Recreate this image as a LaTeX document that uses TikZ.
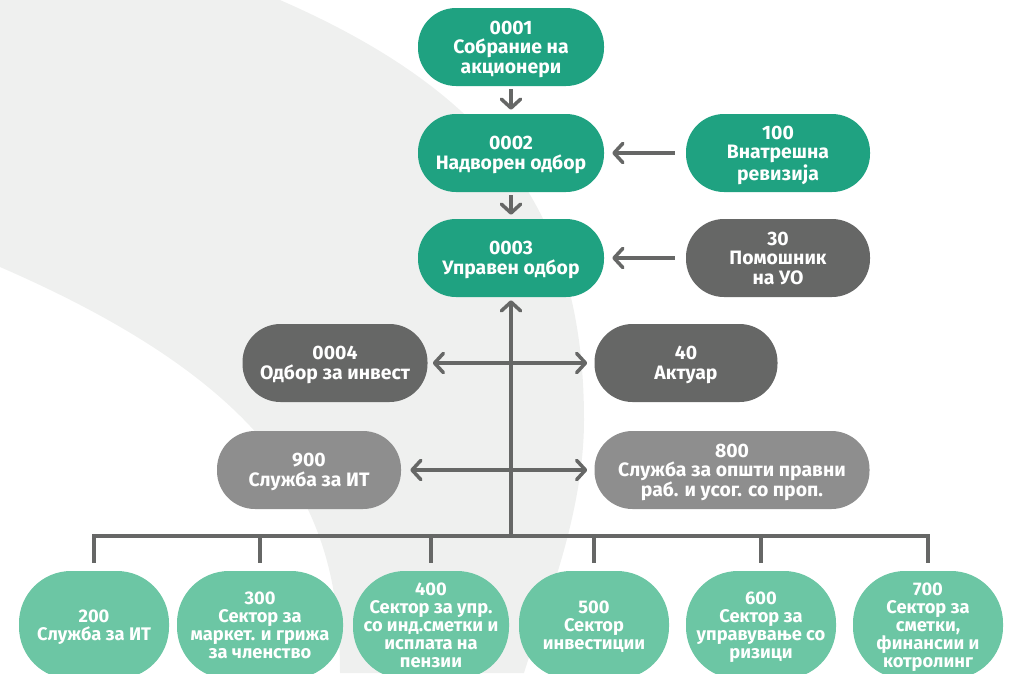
\documentclass[tikz,border=0pt]{standalone}
\usepackage{fontspec}
\setmainfont{Fira Sans}
\usetikzlibrary{arrows.meta}

\definecolor{dkgreen}{RGB}{31,162,129}
\definecolor{ltgreen}{RGB}{108,198,164}
\definecolor{dkgray}{RGB}{102,103,102}
\definecolor{mdgray}{RGB}{142,142,142}
\definecolor{bggray}{RGB}{239,240,239}

\tikzset{
  unit/.style={rounded corners=0.95cm, minimum width=4.65cm, minimum height=1.95cm,
    align=center, text=white, inner sep=0pt, text depth=0pt,
    font=\bfseries\fontsize{13.8}{13.9}\selectfont},
  board/.style={unit, fill=dkgreen},
  staff/.style={unit, fill=dkgray},
  service/.style={unit, fill=mdgray},
  sector/.style={unit, fill=ltgreen, rounded corners=1.3cm, minimum width=3.75cm,
    minimum height=2.7cm, font=\bfseries\fontsize{13}{12.8}\selectfont},
  link/.style={draw=dkgray, line width=2.5pt},
  tip/.style={-{Straight Barb[length=2.2mm,width=4.8mm,round]}}
}

\begin{document}
\begin{tikzpicture}

\useasboundingbox (0,0) rectangle (25.225,-16.825);

% background band
\fill [bggray] (0,0) -- (7,0) .. controls (12.5,-2.4) and (14.6,-5.5) .. (14.6,-10.5)
  .. controls (14.6,-13) and (13.5,-15.5) .. (13.1,-16.825) -- (8.5,-16.825)
  .. controls (8.5,-13) and (7.2,-9.8) .. (0,-6.675) -- cycle;

% top boards
\node [board] (o1) at (12.775,-1.175) {0001\\Собрание на\\акционери};
\node [board] (o2) at (12.775,-3.825) {0002\\Надворен одбор};
\node [board] (o3) at (12.775,-6.45) {0003\\Управен одбор};
\node [board, minimum width=4.6cm] (o100) at (19.45,-3.825) {100\\Внатрешна\\ревизија};
\node [staff, minimum width=4.6cm] (o30) at (19.45,-6.45) {30\\Помошник\\на УО};

% middle
\node [staff, minimum width=4.625cm] (o4) at (8.375,-9.075) {0004\\Одбор за инвест};
\node [staff, minimum width=4.575cm] (o40) at (17.15,-9.075) {40\\Актуар};
\node [service, minimum width=4.6cm] (o900) at (7.725,-11.75) {900\\Служба за ИТ};
\node [service, minimum width=6.875cm] (o800) at (18.3,-11.75) {800\\Служба за општи правни\\раб. и усог. со проп.};

% sectors
\node [sector] (o200) at (2.35,-15.625) {200\\Служба за ИТ};
\node [sector, minimum width=4.15cm] (o300) at (6.5,-15.625) {300\\Сектор за\\маркет. и грижа\\за членство};
\node [sector, minimum width=3.9cm] (o400) at (10.775,-15.625) {400\\Сектор за упр.\\со инд.сметки и\\исплата на\\пензии};
\node [sector] (o500) at (14.85,-15.625) {500\\Сектор\\инвестиции};
\node [sector] (o600) at (19.025,-15.625) {600\\Сектор за\\управување со\\ризици};
\node [sector] (o700) at (23.2,-15.625) {700\\Сектор за\\сметки,\\финансии и\\котролинг};

\coordinate (bus) at (12.775,-13.4);

\begin{scope}[link, tip]
\draw [shorten <=0.75mm, shorten >=1mm] (o1) -- (o2); %o1-o2
\draw [shorten <=0.75mm, shorten >=1mm] (o2) -- (o3); %o2-o3
\draw [shorten <=2.75mm, shorten >=2mm] (o100) -- (o2); %o100-o2
\draw [shorten <=2.75mm, shorten >=2mm] (o30) -- (o3); %o30-o3
\draw [shorten >=0.75mm] (bus) -- (o3); %bus-o3
\end{scope}

\begin{scope}[link, {Straight Barb[length=2.2mm,width=4.8mm,round]}-{Straight Barb[length=2.2mm,width=4.8mm,round]}]
\draw [shorten <=1.25mm, shorten >=1.75mm] (o4) -- (o40); %o4-o40
\draw [shorten <=2.25mm, shorten >=1.75mm] (o900) -- (o800); %o900-o800
\end{scope}

\begin{scope}[link]
\draw ([yshift=2mm]o200.north) |- (bus); %o200-bus
\draw ([yshift=2mm]o300.north) |- (bus); %o300-bus
\draw ([yshift=2mm]o400.north) |- (bus); %o400-bus
\draw ([yshift=2mm]o500.north) |- (bus); %o500-bus
\draw ([yshift=2mm]o600.north) |- (bus); %o600-bus
\draw ([yshift=2mm]o700.north) |- (bus); %o700-bus
\end{scope}

\end{tikzpicture}
\end{document}
